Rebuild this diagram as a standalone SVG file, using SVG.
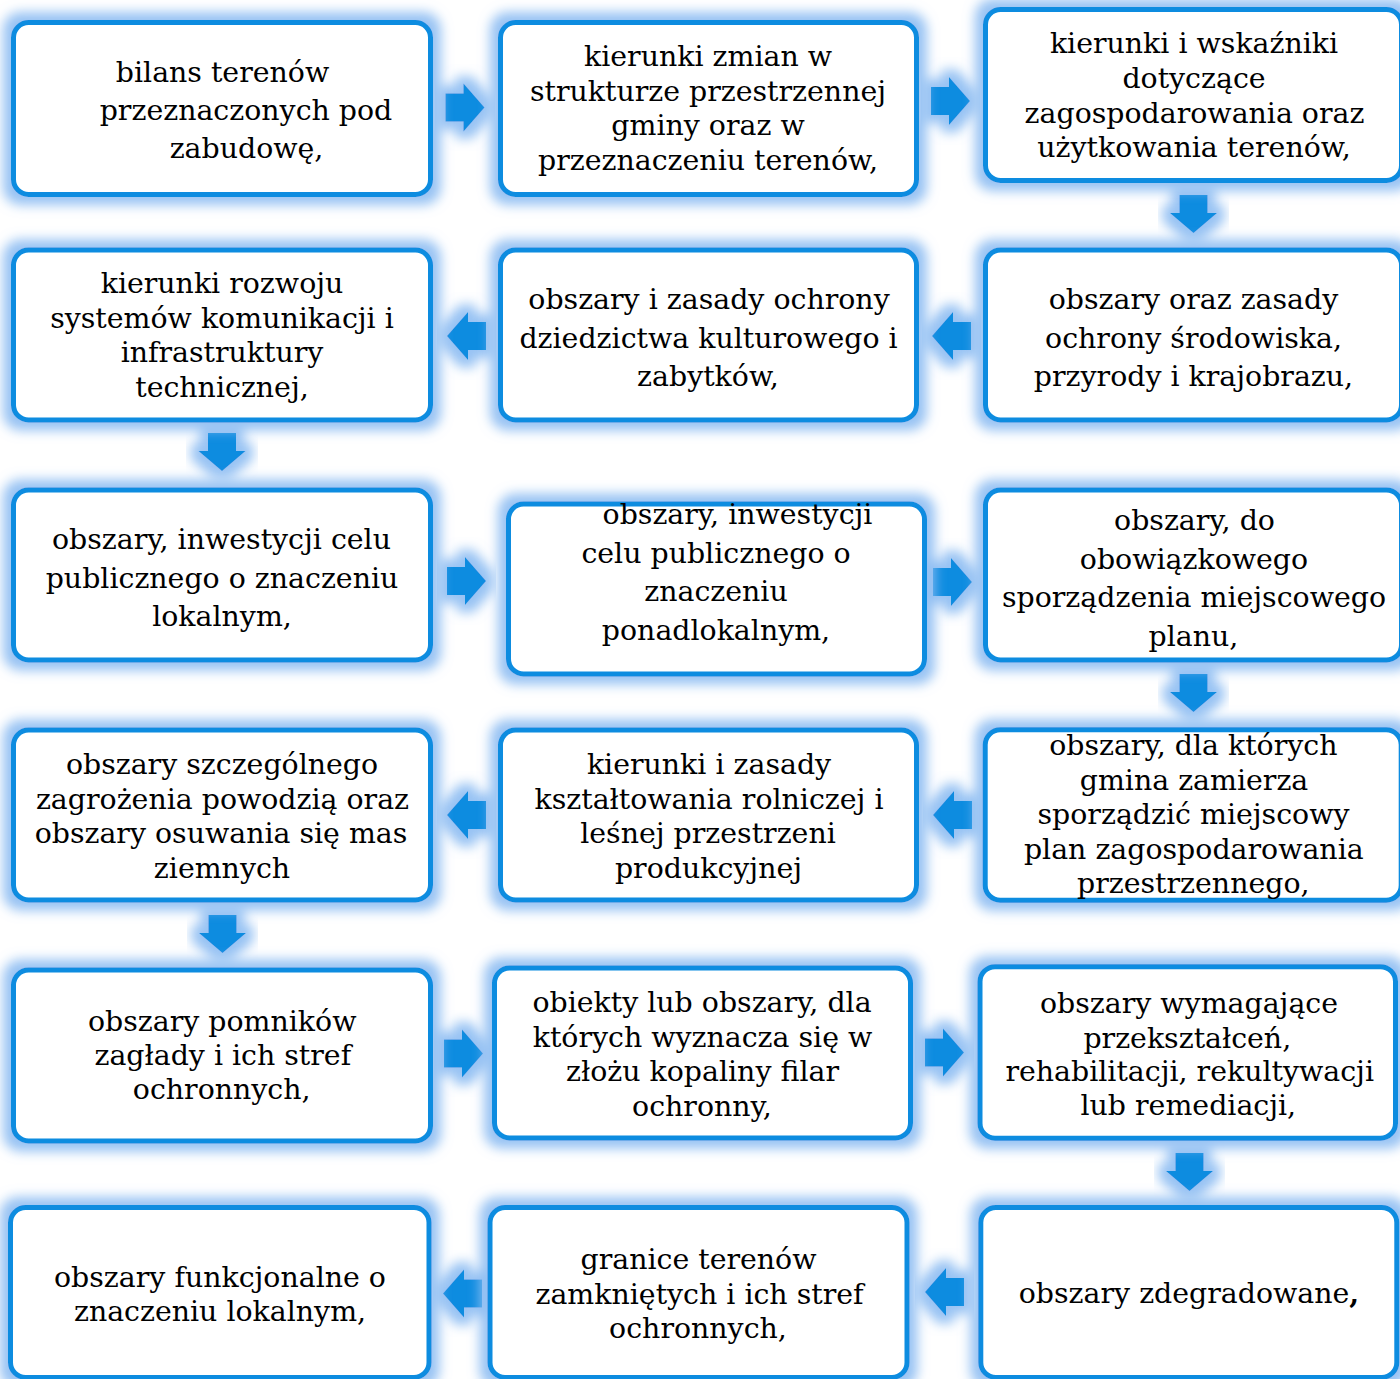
<svg xmlns="http://www.w3.org/2000/svg" xmlns:xlink="http://www.w3.org/1999/xlink" width="1400" height="1379" viewBox="0 0 1400 1379">
<defs>
<style>
.box{fill:#ffffff;stroke:#0a8ce0;stroke-width:5;filter:url(#glow)}
.arr{fill:#0a8ce0;filter:url(#glow)}
.t{font-family:"DejaVu Serif","Liberation Serif",serif;font-size:28.4px;text-anchor:middle;fill:#000000}
</style>
<filter id="glow" x="-25%" y="-40%" width="150%" height="180%">
<feMorphology in="SourceAlpha" operator="dilate" radius="8" result="d"/>
<feGaussianBlur in="d" stdDeviation="6" result="b"/>
<feFlood flood-color="#8cbcf2" flood-opacity="0.9"/>
<feComposite in2="b" operator="in" result="g"/>
<feMerge><feMergeNode in="g"/><feMergeNode in="SourceGraphic"/></feMerge>
</filter>
<path id="aR" d="M0,-14 H18 V-24 L39,0 L18,24 V14 H0 Z"/>
<path id="aL" d="M0,0 L21,-24 V-14 H39 V14 H21 V24 Z"/>
<path id="aD" d="M-14,0 H14 V18 H23.5 L0,38 L-23.5,18 H-14 Z"/>
</defs>
<rect width="1400" height="1379" fill="#ffffff"/>

<g id="connectors">
<use xlink:href="#aR" class="arr" x="445.5" y="107.5"/>
<use xlink:href="#aR" class="arr" x="931" y="101"/>
<use xlink:href="#aD" class="arr" x="1193.5" y="195"/>
<use xlink:href="#aL" class="arr" x="932" y="336"/>
<use xlink:href="#aL" class="arr" x="447" y="336"/>
<use xlink:href="#aD" class="arr" x="222" y="433"/>
<use xlink:href="#aR" class="arr" x="447" y="581"/>
<use xlink:href="#aR" class="arr" x="933" y="582"/>
<use xlink:href="#aD" class="arr" x="1193.5" y="674"/>
<use xlink:href="#aL" class="arr" x="933" y="815"/>
<use xlink:href="#aL" class="arr" x="447" y="815"/>
<use xlink:href="#aD" class="arr" x="222.5" y="915"/>
<use xlink:href="#aR" class="arr" x="444" y="1053.5"/>
<use xlink:href="#aR" class="arr" x="925" y="1052.5"/>
<use xlink:href="#aD" class="arr" x="1189.5" y="1153"/>
<use xlink:href="#aL" class="arr" x="925" y="1292"/>
<use xlink:href="#aL" class="arr" x="443" y="1293.5"/>
</g>

<g id="n1"><rect class="box" x="13.5" y="22.5" width="417" height="172" rx="15"/>
<text class="t" x="222.5" y="81.7">bilans terenów</text>
<text class="t" x="246" y="120">przeznaczonych pod</text>
<text class="t" x="246.5" y="158.3">zabudowę,</text></g>

<g id="n2"><rect class="box" x="500.5" y="22.5" width="416" height="172" rx="15"/>
<text class="t" x="708" y="66">kierunki zmian w</text>
<text class="t" x="708" y="100.5">strukturze przestrzennej</text>
<text class="t" x="708" y="135">gminy oraz w</text>
<text class="t" x="708" y="169.5">przeznaczeniu terenów,</text></g>

<g id="n3"><rect class="box" x="985.5" y="9.5" width="416" height="171" rx="15"/>
<text class="t" x="1194" y="53.3">kierunki i wskaźniki</text>
<text class="t" x="1194" y="88">dotyczące</text>
<text class="t" x="1194.5" y="122.5">zagospodarowania oraz</text>
<text class="t" x="1194" y="157">użytkowania terenów,</text></g>

<g id="n4"><rect class="box" x="13.5" y="250" width="417" height="170" rx="15"/>
<text class="t" x="222" y="293">kierunki rozwoju</text>
<text class="t" x="222" y="327.5">systemów komunikacji i</text>
<text class="t" x="222" y="362">infrastruktury</text>
<text class="t" x="222" y="396.5">technicznej,</text></g>

<g id="n5"><rect class="box" x="500.5" y="250" width="416" height="170" rx="15"/>
<text class="t" x="709" y="309">obszary i zasady ochrony</text>
<text class="t" x="708.5" y="347.5">dziedzictwa kulturowego i</text>
<text class="t" x="708" y="386">zabytków,</text></g>

<g id="n6"><rect class="box" x="985.5" y="250" width="416" height="170" rx="15"/>
<text class="t" x="1193.5" y="309">obszary oraz zasady</text>
<text class="t" x="1193.5" y="347.5">ochrony środowiska,</text>
<text class="t" x="1193.5" y="386">przyrody i krajobrazu,</text></g>

<g id="n7"><rect class="box" x="13.5" y="490" width="417" height="170" rx="15"/>
<text class="t" x="221.5" y="549">obszary, inwestycji celu</text>
<text class="t" x="222" y="587.5">publicznego o znaczeniu</text>
<text class="t" x="222" y="626">lokalnym,</text></g>

<g id="n8"><rect class="box" x="508.5" y="504" width="416" height="170" rx="15"/>
<text class="t" x="737.5" y="524">obszary, inwestycji</text>
<text class="t" x="716" y="562.5">celu publicznego o</text>
<text class="t" x="716" y="601">znaczeniu</text>
<text class="t" x="716" y="639.5">ponadlokalnym,</text></g>

<g id="n9"><rect class="box" x="985.5" y="490" width="416" height="170" rx="15"/>
<text class="t" x="1194.5" y="530">obszary, do</text>
<text class="t" x="1194" y="568.5">obowiązkowego</text>
<text class="t" x="1194" y="607">sporządzenia miejscowego</text>
<text class="t" x="1193.5" y="645.5">planu,</text></g>

<g id="n10"><rect class="box" x="13.5" y="730" width="417" height="170" rx="15"/>
<text class="t" x="222" y="774">obszary szczególnego</text>
<text class="t" x="222.5" y="808.5">zagrożenia powodzią oraz</text>
<text class="t" x="221" y="843">obszary osuwania się mas</text>
<text class="t" x="222" y="877.5">ziemnych</text></g>

<g id="n11"><rect class="box" x="500.5" y="730" width="416" height="170" rx="15"/>
<text class="t" x="709" y="774">kierunki i zasady</text>
<text class="t" x="709" y="808.5">kształtowania rolniczej i</text>
<text class="t" x="708" y="843">leśnej przestrzeni</text>
<text class="t" x="708.5" y="877.5">produkcyjnej</text></g>

<g id="n12"><rect class="box" x="985.2" y="729.8" width="416" height="170.4" rx="15"/>
<text class="t" x="1193.3" y="755">obszary, dla których</text>
<text class="t" x="1194" y="789.6">gmina zamierza</text>
<text class="t" x="1193.5" y="824.2">sporządzić miejscowy</text>
<text class="t" x="1193.8" y="858.8">plan zagospodarowania</text>
<text class="t" x="1193.3" y="893.4">przestrzennego,</text></g>

<g id="n13"><rect class="box" x="13.5" y="970" width="417" height="171" rx="15"/>
<text class="t" x="222.2" y="1030.7">obszary pomników</text>
<text class="t" x="222.8" y="1065">zagłady i ich stref</text>
<text class="t" x="221.7" y="1099.3">ochronnych,</text></g>

<g id="n14"><rect class="box" x="494.5" y="968" width="416" height="170" rx="15"/>
<text class="t" x="702" y="1012">obiekty lub obszary, dla</text>
<text class="t" x="702.5" y="1046.5">których wyznacza się w</text>
<text class="t" x="702.5" y="1081">złożu kopaliny filar</text>
<text class="t" x="702" y="1115.5">ochronny,</text></g>

<g id="n15"><rect class="box" x="980" y="966.7" width="415.5" height="171.5" rx="15"/>
<text class="t" x="1189" y="1013.3">obszary wymagające</text>
<text class="t" x="1187.3" y="1047.8">przekształceń,</text>
<text class="t" x="1189.7" y="1081">rehabilitacji, rekultywacji</text>
<text class="t" x="1188.3" y="1115">lub remediacji,</text></g>

<g id="n16"><rect class="box" x="10.5" y="1207.5" width="418.5" height="170" rx="15"/>
<text class="t" x="220" y="1286.7">obszary funkcjonalne o</text>
<text class="t" x="220" y="1321">znaczeniu lokalnym,</text></g>

<g id="n17"><rect class="box" x="490" y="1207.5" width="417" height="170" rx="15"/>
<text class="t" x="698.5" y="1269">granice terenów</text>
<text class="t" x="699.5" y="1303.5">zamkniętych i ich stref</text>
<text class="t" x="698" y="1338">ochronnych,</text></g>

<g id="n18"><rect class="box" x="980.8" y="1207.5" width="416" height="170" rx="15"/>
<text class="t" x="1189" y="1303.3">obszary zdegradowane<tspan font-weight="bold">,</tspan></text></g>
</svg>
